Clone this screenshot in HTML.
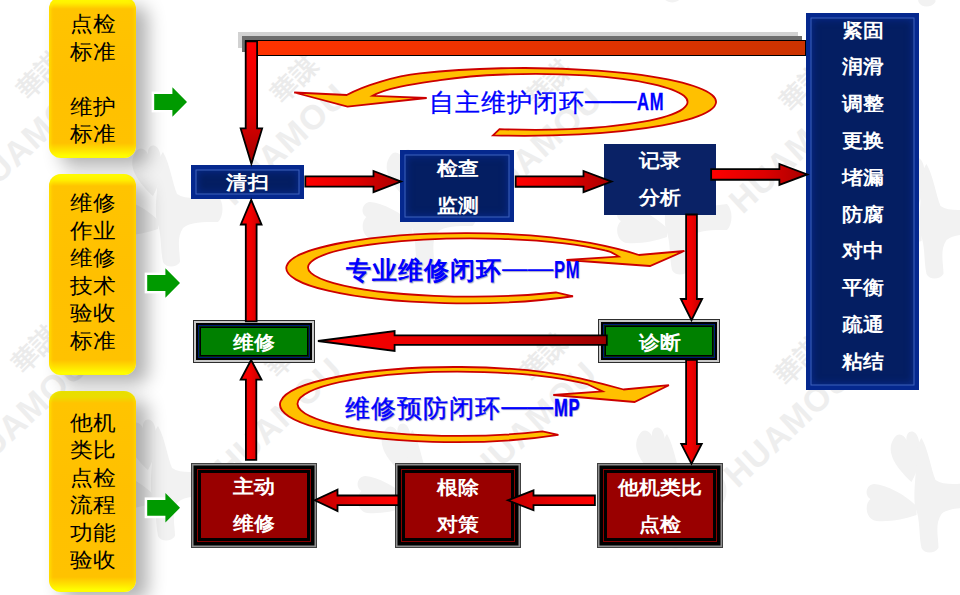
<!DOCTYPE html>
<html><head><meta charset="utf-8"><style>
*{margin:0;padding:0;box-sizing:border-box}
html,body{width:960px;height:595px;overflow:hidden;background:#fff}
body{position:relative;font-family:"Liberation Sans",sans-serif}
.abs{position:absolute}
.yb{position:absolute;left:48.5px;width:87px;border-radius:12px;
 background:linear-gradient(to bottom,var(--t1,#ffff00) 0px,var(--t2,#fff000) 6px,#ffc400 12px,#ffc000 50%,#ffc200 calc(100% - 15px),#ffe600 calc(100% - 7px),#ffff00 calc(100% - 2px));
 box-shadow:12px 9px 18px rgba(0,0,0,0.30)}
.yb:after{content:"";position:absolute;inset:0;border-radius:12px;box-shadow:inset 3px 0 3px -1px rgba(255,240,0,0.6),inset -3px 0 3px -1px rgba(255,230,0,0.5)}
.yt{position:absolute;left:70px;width:50px;font-size:21px;line-height:27.5px;color:#000;letter-spacing:0.3px;white-space:nowrap;transform:scaleX(1.08);transform-origin:0 0}
.nv{position:absolute;background:#041e62;box-shadow:inset 0 0 0 4.5px #05288e,inset 0 0 0 5.5px #3f62bc,inset 0 0 7px 7px #072886}
.nv i{display:none}
.wt{position:absolute;color:#fff;font-weight:bold;font-size:18.5px;line-height:21px;text-align:center;white-space:nowrap;transform:scaleX(1.1);transform-origin:50% 50%;letter-spacing:0.3px}
.gb{position:absolute;background:#008000;box-shadow:inset 0 0 0 1px #2e2e2e,inset 0 0 0 3px #c8c8c8,inset 0 0 0 5px #000,inset 0 0 0 6px #001c78,inset 0 0 0 7px #003000,inset 0 0 0 8px #000}
.rb{position:absolute;background:#990000;box-shadow:inset 0 0 0 1px #404040,inset 0 0 0 2.5px #8e8e8e,inset 0 0 0 6px #000,inset 0 0 0 7px #8a0000,inset 0 0 0 10px #000}
.lt{position:absolute;color:#0000ff;font-size:24.5px;letter-spacing:1.1px;line-height:26px;white-space:nowrap}
.dd{font-weight:normal;letter-spacing:0;font-size:25.6px;position:relative;top:-2px;margin-right:1px}
.lt.bd{font-weight:bold;text-shadow:1px 1px 1px rgba(0,0,80,0.35)}
.lat{display:inline-block;font-weight:bold;transform:scaleX(0.70);transform-origin:0 50%;font-size:23.7px;vertical-align:top;line-height:26px}
</style></head><body>

<svg class="abs" style="left:0;top:0" width="960" height="595" viewBox="0 0 960 595" font-family="Liberation Sans, sans-serif"><text x="-222.5" y="-201" transform="rotate(-45 -222.5 -201)" font-size="26" font-weight="bold" text-anchor="middle" dominant-baseline="central" fill="#ebebeb">華謀</text><text x="-233.5" y="-136" transform="rotate(-43 -233.5 -136)" font-size="34" font-weight="bold" letter-spacing="1" text-anchor="middle" dominant-baseline="central" fill="#eeeeee">HUAMOU</text><g fill="#f2f2f2"><g transform="translate(-104.5,-68)"><path d="M-5,-12 C-21,-27 -31,-42 -23,-55 C-19,-62 -13,-60 -10,-54 C-11,-64 -1,-66 2,-55 C6,-40 2,-24 -5,-12 Z"/><path d="M0,12 C-12,0 -30,-9 -42,-10 C-50,-10 -53,1 -46,5 C-53,11 -50,26 -40,27 C-26,28 -12,25 0,21 Z"/><path d="M5,-56 C12,-44 14,-26 19,-14 C28,-8 44,-10 60,-12 C66,-6 66,8 60,14 C45,14 32,14 25,20 C18,30 22,44 22,54 C18,60 8,60 5,54 C2,40 4,26 -1,14 C-4,2 0,-22 0,-36 C0,-46 2,-52 5,-56 Z"/></g></g><text x="-214.5" y="71" transform="rotate(-45 -214.5 71)" font-size="26" font-weight="bold" text-anchor="middle" dominant-baseline="central" fill="#ebebeb">華謀</text><text x="-225.5" y="136" transform="rotate(-43 -225.5 136)" font-size="34" font-weight="bold" letter-spacing="1" text-anchor="middle" dominant-baseline="central" fill="#eeeeee">HUAMOU</text><g fill="#f2f2f2"><g transform="translate(-96.5,204)"><path d="M-5,-12 C-21,-27 -31,-42 -23,-55 C-19,-62 -13,-60 -10,-54 C-11,-64 -1,-66 2,-55 C6,-40 2,-24 -5,-12 Z"/><path d="M0,12 C-12,0 -30,-9 -42,-10 C-50,-10 -53,1 -46,5 C-53,11 -50,26 -40,27 C-26,28 -12,25 0,21 Z"/><path d="M5,-56 C12,-44 14,-26 19,-14 C28,-8 44,-10 60,-12 C66,-6 66,8 60,14 C45,14 32,14 25,20 C18,30 22,44 22,54 C18,60 8,60 5,54 C2,40 4,26 -1,14 C-4,2 0,-22 0,-36 C0,-46 2,-52 5,-56 Z"/></g></g><text x="-219.5" y="345" transform="rotate(-45 -219.5 345)" font-size="26" font-weight="bold" text-anchor="middle" dominant-baseline="central" fill="#ebebeb">華謀</text><text x="-230.5" y="410" transform="rotate(-43 -230.5 410)" font-size="34" font-weight="bold" letter-spacing="1" text-anchor="middle" dominant-baseline="central" fill="#eeeeee">HUAMOU</text><g fill="#f2f2f2"><g transform="translate(-101.5,478)"><path d="M-5,-12 C-21,-27 -31,-42 -23,-55 C-19,-62 -13,-60 -10,-54 C-11,-64 -1,-66 2,-55 C6,-40 2,-24 -5,-12 Z"/><path d="M0,12 C-12,0 -30,-9 -42,-10 C-50,-10 -53,1 -46,5 C-53,11 -50,26 -40,27 C-26,28 -12,25 0,21 Z"/><path d="M5,-56 C12,-44 14,-26 19,-14 C28,-8 44,-10 60,-12 C66,-6 66,8 60,14 C45,14 32,14 25,20 C18,30 22,44 22,54 C18,60 8,60 5,54 C2,40 4,26 -1,14 C-4,2 0,-22 0,-36 C0,-46 2,-52 5,-56 Z"/></g></g><text x="32.0" y="-197" transform="rotate(-45 32.0 -197)" font-size="26" font-weight="bold" text-anchor="middle" dominant-baseline="central" fill="#ebebeb">華謀</text><text x="21.0" y="-132" transform="rotate(-43 21.0 -132)" font-size="34" font-weight="bold" letter-spacing="1" text-anchor="middle" dominant-baseline="central" fill="#eeeeee">HUAMOU</text><g fill="#f2f2f2"><g transform="translate(150.0,-64)"><path d="M-5,-12 C-21,-27 -31,-42 -23,-55 C-19,-62 -13,-60 -10,-54 C-11,-64 -1,-66 2,-55 C6,-40 2,-24 -5,-12 Z"/><path d="M0,12 C-12,0 -30,-9 -42,-10 C-50,-10 -53,1 -46,5 C-53,11 -50,26 -40,27 C-26,28 -12,25 0,21 Z"/><path d="M5,-56 C12,-44 14,-26 19,-14 C28,-8 44,-10 60,-12 C66,-6 66,8 60,14 C45,14 32,14 25,20 C18,30 22,44 22,54 C18,60 8,60 5,54 C2,40 4,26 -1,14 C-4,2 0,-22 0,-36 C0,-46 2,-52 5,-56 Z"/></g></g><text x="40.0" y="75" transform="rotate(-45 40.0 75)" font-size="26" font-weight="bold" text-anchor="middle" dominant-baseline="central" fill="#ebebeb">華謀</text><text x="29.0" y="140" transform="rotate(-43 29.0 140)" font-size="34" font-weight="bold" letter-spacing="1" text-anchor="middle" dominant-baseline="central" fill="#eeeeee">HUAMOU</text><g fill="#f2f2f2"><g transform="translate(158.0,208)"><path d="M-5,-12 C-21,-27 -31,-42 -23,-55 C-19,-62 -13,-60 -10,-54 C-11,-64 -1,-66 2,-55 C6,-40 2,-24 -5,-12 Z"/><path d="M0,12 C-12,0 -30,-9 -42,-10 C-50,-10 -53,1 -46,5 C-53,11 -50,26 -40,27 C-26,28 -12,25 0,21 Z"/><path d="M5,-56 C12,-44 14,-26 19,-14 C28,-8 44,-10 60,-12 C66,-6 66,8 60,14 C45,14 32,14 25,20 C18,30 22,44 22,54 C18,60 8,60 5,54 C2,40 4,26 -1,14 C-4,2 0,-22 0,-36 C0,-46 2,-52 5,-56 Z"/></g></g><text x="35.0" y="349" transform="rotate(-45 35.0 349)" font-size="26" font-weight="bold" text-anchor="middle" dominant-baseline="central" fill="#ebebeb">華謀</text><text x="24.0" y="414" transform="rotate(-43 24.0 414)" font-size="34" font-weight="bold" letter-spacing="1" text-anchor="middle" dominant-baseline="central" fill="#eeeeee">HUAMOU</text><g fill="#f2f2f2"><g transform="translate(153.0,482)"><path d="M-5,-12 C-21,-27 -31,-42 -23,-55 C-19,-62 -13,-60 -10,-54 C-11,-64 -1,-66 2,-55 C6,-40 2,-24 -5,-12 Z"/><path d="M0,12 C-12,0 -30,-9 -42,-10 C-50,-10 -53,1 -46,5 C-53,11 -50,26 -40,27 C-26,28 -12,25 0,21 Z"/><path d="M5,-56 C12,-44 14,-26 19,-14 C28,-8 44,-10 60,-12 C66,-6 66,8 60,14 C45,14 32,14 25,20 C18,30 22,44 22,54 C18,60 8,60 5,54 C2,40 4,26 -1,14 C-4,2 0,-22 0,-36 C0,-46 2,-52 5,-56 Z"/></g></g><text x="286.5" y="-193" transform="rotate(-45 286.5 -193)" font-size="26" font-weight="bold" text-anchor="middle" dominant-baseline="central" fill="#ebebeb">華謀</text><text x="275.5" y="-128" transform="rotate(-43 275.5 -128)" font-size="34" font-weight="bold" letter-spacing="1" text-anchor="middle" dominant-baseline="central" fill="#eeeeee">HUAMOU</text><g fill="#f2f2f2"><g transform="translate(404.5,-60)"><path d="M-5,-12 C-21,-27 -31,-42 -23,-55 C-19,-62 -13,-60 -10,-54 C-11,-64 -1,-66 2,-55 C6,-40 2,-24 -5,-12 Z"/><path d="M0,12 C-12,0 -30,-9 -42,-10 C-50,-10 -53,1 -46,5 C-53,11 -50,26 -40,27 C-26,28 -12,25 0,21 Z"/><path d="M5,-56 C12,-44 14,-26 19,-14 C28,-8 44,-10 60,-12 C66,-6 66,8 60,14 C45,14 32,14 25,20 C18,30 22,44 22,54 C18,60 8,60 5,54 C2,40 4,26 -1,14 C-4,2 0,-22 0,-36 C0,-46 2,-52 5,-56 Z"/></g></g><text x="294.5" y="79" transform="rotate(-45 294.5 79)" font-size="26" font-weight="bold" text-anchor="middle" dominant-baseline="central" fill="#ebebeb">華謀</text><text x="283.5" y="144" transform="rotate(-43 283.5 144)" font-size="34" font-weight="bold" letter-spacing="1" text-anchor="middle" dominant-baseline="central" fill="#eeeeee">HUAMOU</text><g fill="#f2f2f2"><g transform="translate(412.5,212)"><path d="M-5,-12 C-21,-27 -31,-42 -23,-55 C-19,-62 -13,-60 -10,-54 C-11,-64 -1,-66 2,-55 C6,-40 2,-24 -5,-12 Z"/><path d="M0,12 C-12,0 -30,-9 -42,-10 C-50,-10 -53,1 -46,5 C-53,11 -50,26 -40,27 C-26,28 -12,25 0,21 Z"/><path d="M5,-56 C12,-44 14,-26 19,-14 C28,-8 44,-10 60,-12 C66,-6 66,8 60,14 C45,14 32,14 25,20 C18,30 22,44 22,54 C18,60 8,60 5,54 C2,40 4,26 -1,14 C-4,2 0,-22 0,-36 C0,-46 2,-52 5,-56 Z"/></g></g><text x="289.5" y="353" transform="rotate(-45 289.5 353)" font-size="26" font-weight="bold" text-anchor="middle" dominant-baseline="central" fill="#ebebeb">華謀</text><text x="278.5" y="418" transform="rotate(-43 278.5 418)" font-size="34" font-weight="bold" letter-spacing="1" text-anchor="middle" dominant-baseline="central" fill="#eeeeee">HUAMOU</text><g fill="#f2f2f2"><g transform="translate(407.5,486)"><path d="M-5,-12 C-21,-27 -31,-42 -23,-55 C-19,-62 -13,-60 -10,-54 C-11,-64 -1,-66 2,-55 C6,-40 2,-24 -5,-12 Z"/><path d="M0,12 C-12,0 -30,-9 -42,-10 C-50,-10 -53,1 -46,5 C-53,11 -50,26 -40,27 C-26,28 -12,25 0,21 Z"/><path d="M5,-56 C12,-44 14,-26 19,-14 C28,-8 44,-10 60,-12 C66,-6 66,8 60,14 C45,14 32,14 25,20 C18,30 22,44 22,54 C18,60 8,60 5,54 C2,40 4,26 -1,14 C-4,2 0,-22 0,-36 C0,-46 2,-52 5,-56 Z"/></g></g><text x="541.0" y="-189" transform="rotate(-45 541.0 -189)" font-size="26" font-weight="bold" text-anchor="middle" dominant-baseline="central" fill="#ebebeb">華謀</text><text x="530.0" y="-124" transform="rotate(-43 530.0 -124)" font-size="34" font-weight="bold" letter-spacing="1" text-anchor="middle" dominant-baseline="central" fill="#eeeeee">HUAMOU</text><g fill="#f2f2f2"><g transform="translate(659.0,-56)"><path d="M-5,-12 C-21,-27 -31,-42 -23,-55 C-19,-62 -13,-60 -10,-54 C-11,-64 -1,-66 2,-55 C6,-40 2,-24 -5,-12 Z"/><path d="M0,12 C-12,0 -30,-9 -42,-10 C-50,-10 -53,1 -46,5 C-53,11 -50,26 -40,27 C-26,28 -12,25 0,21 Z"/><path d="M5,-56 C12,-44 14,-26 19,-14 C28,-8 44,-10 60,-12 C66,-6 66,8 60,14 C45,14 32,14 25,20 C18,30 22,44 22,54 C18,60 8,60 5,54 C2,40 4,26 -1,14 C-4,2 0,-22 0,-36 C0,-46 2,-52 5,-56 Z"/></g></g><text x="549.0" y="83" transform="rotate(-45 549.0 83)" font-size="26" font-weight="bold" text-anchor="middle" dominant-baseline="central" fill="#ebebeb">華謀</text><text x="538.0" y="148" transform="rotate(-43 538.0 148)" font-size="34" font-weight="bold" letter-spacing="1" text-anchor="middle" dominant-baseline="central" fill="#eeeeee">HUAMOU</text><g fill="#f2f2f2"><g transform="translate(667.0,216)"><path d="M-5,-12 C-21,-27 -31,-42 -23,-55 C-19,-62 -13,-60 -10,-54 C-11,-64 -1,-66 2,-55 C6,-40 2,-24 -5,-12 Z"/><path d="M0,12 C-12,0 -30,-9 -42,-10 C-50,-10 -53,1 -46,5 C-53,11 -50,26 -40,27 C-26,28 -12,25 0,21 Z"/><path d="M5,-56 C12,-44 14,-26 19,-14 C28,-8 44,-10 60,-12 C66,-6 66,8 60,14 C45,14 32,14 25,20 C18,30 22,44 22,54 C18,60 8,60 5,54 C2,40 4,26 -1,14 C-4,2 0,-22 0,-36 C0,-46 2,-52 5,-56 Z"/></g></g><text x="544.0" y="357" transform="rotate(-45 544.0 357)" font-size="26" font-weight="bold" text-anchor="middle" dominant-baseline="central" fill="#ebebeb">華謀</text><text x="533.0" y="422" transform="rotate(-43 533.0 422)" font-size="34" font-weight="bold" letter-spacing="1" text-anchor="middle" dominant-baseline="central" fill="#eeeeee">HUAMOU</text><g fill="#f2f2f2"><g transform="translate(662.0,490)"><path d="M-5,-12 C-21,-27 -31,-42 -23,-55 C-19,-62 -13,-60 -10,-54 C-11,-64 -1,-66 2,-55 C6,-40 2,-24 -5,-12 Z"/><path d="M0,12 C-12,0 -30,-9 -42,-10 C-50,-10 -53,1 -46,5 C-53,11 -50,26 -40,27 C-26,28 -12,25 0,21 Z"/><path d="M5,-56 C12,-44 14,-26 19,-14 C28,-8 44,-10 60,-12 C66,-6 66,8 60,14 C45,14 32,14 25,20 C18,30 22,44 22,54 C18,60 8,60 5,54 C2,40 4,26 -1,14 C-4,2 0,-22 0,-36 C0,-46 2,-52 5,-56 Z"/></g></g><text x="795.5" y="-185" transform="rotate(-45 795.5 -185)" font-size="26" font-weight="bold" text-anchor="middle" dominant-baseline="central" fill="#ebebeb">華謀</text><text x="784.5" y="-120" transform="rotate(-43 784.5 -120)" font-size="34" font-weight="bold" letter-spacing="1" text-anchor="middle" dominant-baseline="central" fill="#eeeeee">HUAMOU</text><g fill="#f2f2f2"><g transform="translate(913.5,-52)"><path d="M-5,-12 C-21,-27 -31,-42 -23,-55 C-19,-62 -13,-60 -10,-54 C-11,-64 -1,-66 2,-55 C6,-40 2,-24 -5,-12 Z"/><path d="M0,12 C-12,0 -30,-9 -42,-10 C-50,-10 -53,1 -46,5 C-53,11 -50,26 -40,27 C-26,28 -12,25 0,21 Z"/><path d="M5,-56 C12,-44 14,-26 19,-14 C28,-8 44,-10 60,-12 C66,-6 66,8 60,14 C45,14 32,14 25,20 C18,30 22,44 22,54 C18,60 8,60 5,54 C2,40 4,26 -1,14 C-4,2 0,-22 0,-36 C0,-46 2,-52 5,-56 Z"/></g></g><text x="803.5" y="87" transform="rotate(-45 803.5 87)" font-size="26" font-weight="bold" text-anchor="middle" dominant-baseline="central" fill="#ebebeb">華謀</text><text x="792.5" y="152" transform="rotate(-43 792.5 152)" font-size="34" font-weight="bold" letter-spacing="1" text-anchor="middle" dominant-baseline="central" fill="#eeeeee">HUAMOU</text><g fill="#f2f2f2"><g transform="translate(921.5,220)"><path d="M-5,-12 C-21,-27 -31,-42 -23,-55 C-19,-62 -13,-60 -10,-54 C-11,-64 -1,-66 2,-55 C6,-40 2,-24 -5,-12 Z"/><path d="M0,12 C-12,0 -30,-9 -42,-10 C-50,-10 -53,1 -46,5 C-53,11 -50,26 -40,27 C-26,28 -12,25 0,21 Z"/><path d="M5,-56 C12,-44 14,-26 19,-14 C28,-8 44,-10 60,-12 C66,-6 66,8 60,14 C45,14 32,14 25,20 C18,30 22,44 22,54 C18,60 8,60 5,54 C2,40 4,26 -1,14 C-4,2 0,-22 0,-36 C0,-46 2,-52 5,-56 Z"/></g></g><text x="798.5" y="361" transform="rotate(-45 798.5 361)" font-size="26" font-weight="bold" text-anchor="middle" dominant-baseline="central" fill="#ebebeb">華謀</text><text x="787.5" y="426" transform="rotate(-43 787.5 426)" font-size="34" font-weight="bold" letter-spacing="1" text-anchor="middle" dominant-baseline="central" fill="#eeeeee">HUAMOU</text><g fill="#f2f2f2"><g transform="translate(916.5,494)"><path d="M-5,-12 C-21,-27 -31,-42 -23,-55 C-19,-62 -13,-60 -10,-54 C-11,-64 -1,-66 2,-55 C6,-40 2,-24 -5,-12 Z"/><path d="M0,12 C-12,0 -30,-9 -42,-10 C-50,-10 -53,1 -46,5 C-53,11 -50,26 -40,27 C-26,28 -12,25 0,21 Z"/><path d="M5,-56 C12,-44 14,-26 19,-14 C28,-8 44,-10 60,-12 C66,-6 66,8 60,14 C45,14 32,14 25,20 C18,30 22,44 22,54 C18,60 8,60 5,54 C2,40 4,26 -1,14 C-4,2 0,-22 0,-36 C0,-46 2,-52 5,-56 Z"/></g></g><text x="1050.0" y="-181" transform="rotate(-45 1050.0 -181)" font-size="26" font-weight="bold" text-anchor="middle" dominant-baseline="central" fill="#ebebeb">華謀</text><text x="1039.0" y="-116" transform="rotate(-43 1039.0 -116)" font-size="34" font-weight="bold" letter-spacing="1" text-anchor="middle" dominant-baseline="central" fill="#eeeeee">HUAMOU</text><g fill="#f2f2f2"><g transform="translate(1168.0,-48)"><path d="M-5,-12 C-21,-27 -31,-42 -23,-55 C-19,-62 -13,-60 -10,-54 C-11,-64 -1,-66 2,-55 C6,-40 2,-24 -5,-12 Z"/><path d="M0,12 C-12,0 -30,-9 -42,-10 C-50,-10 -53,1 -46,5 C-53,11 -50,26 -40,27 C-26,28 -12,25 0,21 Z"/><path d="M5,-56 C12,-44 14,-26 19,-14 C28,-8 44,-10 60,-12 C66,-6 66,8 60,14 C45,14 32,14 25,20 C18,30 22,44 22,54 C18,60 8,60 5,54 C2,40 4,26 -1,14 C-4,2 0,-22 0,-36 C0,-46 2,-52 5,-56 Z"/></g></g><text x="1058.0" y="91" transform="rotate(-45 1058.0 91)" font-size="26" font-weight="bold" text-anchor="middle" dominant-baseline="central" fill="#ebebeb">華謀</text><text x="1047.0" y="156" transform="rotate(-43 1047.0 156)" font-size="34" font-weight="bold" letter-spacing="1" text-anchor="middle" dominant-baseline="central" fill="#eeeeee">HUAMOU</text><g fill="#f2f2f2"><g transform="translate(1176.0,224)"><path d="M-5,-12 C-21,-27 -31,-42 -23,-55 C-19,-62 -13,-60 -10,-54 C-11,-64 -1,-66 2,-55 C6,-40 2,-24 -5,-12 Z"/><path d="M0,12 C-12,0 -30,-9 -42,-10 C-50,-10 -53,1 -46,5 C-53,11 -50,26 -40,27 C-26,28 -12,25 0,21 Z"/><path d="M5,-56 C12,-44 14,-26 19,-14 C28,-8 44,-10 60,-12 C66,-6 66,8 60,14 C45,14 32,14 25,20 C18,30 22,44 22,54 C18,60 8,60 5,54 C2,40 4,26 -1,14 C-4,2 0,-22 0,-36 C0,-46 2,-52 5,-56 Z"/></g></g><text x="1053.0" y="365" transform="rotate(-45 1053.0 365)" font-size="26" font-weight="bold" text-anchor="middle" dominant-baseline="central" fill="#ebebeb">華謀</text><text x="1042.0" y="430" transform="rotate(-43 1042.0 430)" font-size="34" font-weight="bold" letter-spacing="1" text-anchor="middle" dominant-baseline="central" fill="#eeeeee">HUAMOU</text><g fill="#f2f2f2"><g transform="translate(1171.0,498)"><path d="M-5,-12 C-21,-27 -31,-42 -23,-55 C-19,-62 -13,-60 -10,-54 C-11,-64 -1,-66 2,-55 C6,-40 2,-24 -5,-12 Z"/><path d="M0,12 C-12,0 -30,-9 -42,-10 C-50,-10 -53,1 -46,5 C-53,11 -50,26 -40,27 C-26,28 -12,25 0,21 Z"/><path d="M5,-56 C12,-44 14,-26 19,-14 C28,-8 44,-10 60,-12 C66,-6 66,8 60,14 C45,14 32,14 25,20 C18,30 22,44 22,54 C18,60 8,60 5,54 C2,40 4,26 -1,14 C-4,2 0,-22 0,-36 C0,-46 2,-52 5,-56 Z"/></g></g></svg>
<!-- yellow boxes -->
<div class="yb" style="top:-3px;height:161px"></div>
<div class="yb" style="top:173.5px;height:201px"></div>
<div class="yb" style="top:390.5px;height:201px;--t1:#e6e000;--t2:#ecdc00"></div>
<div class="yt" style="top:10px">点检<br>标准<br>&nbsp;<br>维护<br>标准</div>
<div class="yt" style="top:189px">维修<br>作业<br>维修<br>技术<br>验收<br>标准</div>
<div class="yt" style="top:408.5px">他机<br>类比<br>点检<br>流程<br>功能<br>验收</div>

<!-- top bar with 3D shadow -->
<div class="abs" style="left:237.5px;top:32px;width:560.5px;height:16px;background:#d2d2d2"></div>
<div class="abs" style="left:241.5px;top:36px;width:560.5px;height:16px;background:#6e6e6e"></div>
<div class="abs" style="left:245px;top:40px;width:561px;height:16px;background:linear-gradient(to right,#ff3300,#f03300 35%,#cc3300);border:1.8px solid #000"></div>

<!-- right navy box -->
<div class="nv" style="left:806px;top:13px;width:112.6px;height:376.7px"><i></i></div>
<div class="wt" style="left:806.5px;width:112px;top:12.6px;line-height:36.8px">紧固<br>润滑<br>调整<br>更换<br>堵漏<br>防腐<br>对中<br>平衡<br>疏通<br>粘结</div>

<!-- navy center boxes -->
<div class="nv" style="left:190.5px;top:165.2px;width:113.3px;height:34.2px"><i></i></div>
<div class="wt" style="left:190.5px;width:113.3px;top:171.8px">清扫</div>
<div class="nv" style="left:400.3px;top:150.3px;width:113.4px;height:72.1px"><i></i></div>
<div class="wt" style="left:400.3px;width:116px;top:149.5px;line-height:37px">检查<br>监测</div>
<div class="abs" style="left:604.4px;top:144.4px;width:112.1px;height:70.4px;background:#0a2266"></div>
<div class="wt" style="left:604.4px;width:112.1px;top:142px;line-height:37px;padding-top:0">记录<br>分析</div>

<!-- green boxes -->
<div class="gb" style="left:193.3px;top:319.5px;width:122px;height:43.7px"></div>
<div class="wt" style="left:193.3px;width:122px;top:331.5px">维修</div>
<div class="gb" style="left:598.3px;top:319.3px;width:122.2px;height:44.1px"></div>
<div class="wt" style="left:599.3px;width:122.2px;top:331.8px">诊断</div>

<!-- red boxes -->
<div class="rb" style="left:191.4px;top:462.6px;width:126px;height:85.7px"></div>
<div class="wt" style="left:191.4px;width:126px;top:468px;line-height:37px">主动<br>维修</div>
<div class="rb" style="left:394.6px;top:462.6px;width:126.1px;height:85.9px"></div>
<div class="wt" style="left:394.6px;width:126.1px;top:468.5px;line-height:37px">根除<br>对策</div>
<div class="rb" style="left:596.5px;top:462.6px;width:126.2px;height:85.7px"></div>
<div class="wt" style="left:596.5px;width:126.2px;top:468.5px;line-height:37px">他机类比<br>点检</div>

<svg class="abs" style="left:0;top:0" width="960" height="595" viewBox="0 0 960 595">
<defs>
<linearGradient id="gv1" x1="0" y1="0" x2="0" y2="1"><stop offset="0" stop-color="#ff0000"/><stop offset="0.6" stop-color="#e00000"/><stop offset="1" stop-color="#a00000"/></linearGradient>
<linearGradient id="gvu" x1="0" y1="0" x2="1" y2="0"><stop offset="0" stop-color="#ff0000"/><stop offset="0.5" stop-color="#f00000"/><stop offset="1" stop-color="#c00000"/></linearGradient>
<linearGradient id="gvd" x1="0" y1="0" x2="1" y2="0"><stop offset="0" stop-color="#ff0000"/><stop offset="0.5" stop-color="#ee0000"/><stop offset="1" stop-color="#c00000"/></linearGradient>
<linearGradient id="gr" x1="0" y1="0" x2="1" y2="0"><stop offset="0" stop-color="#ff0000"/><stop offset="0.55" stop-color="#dd0000"/><stop offset="1" stop-color="#a80000"/></linearGradient>
<linearGradient id="gl6" x1="0" y1="0" x2="1" y2="0"><stop offset="0" stop-color="#ff0000"/><stop offset="0.5" stop-color="#e00000"/><stop offset="1" stop-color="#9a0000"/></linearGradient>
<linearGradient id="gl9" x1="0" y1="0" x2="1" y2="0"><stop offset="0" stop-color="#c00000"/><stop offset="0.5" stop-color="#e80000"/><stop offset="1" stop-color="#ff0000"/></linearGradient>
</defs>
<rect x="151.70" y="91.60" width="22.20" height="20.80" fill="#fff"/><polygon points="154.20,94.10 172.40,94.10 172.40,87.20 187.00,102.00 172.40,116.80 172.40,109.90 154.20,109.90" fill="#009a00"/><rect x="144.70" y="272.60" width="22.20" height="20.80" fill="#fff"/><polygon points="147.20,275.10 165.40,275.10 165.40,268.20 180.00,283.00 165.40,297.80 165.40,290.90 147.20,290.90" fill="#009a00"/><rect x="144.70" y="497.40" width="22.20" height="20.80" fill="#fff"/><polygon points="147.20,499.90 165.40,499.90 165.40,493.00 180.00,507.80 165.40,522.60 165.40,515.70 147.20,515.70" fill="#009a00"/>
<g fill="#ffc000" stroke="#cc0000" stroke-width="1.8" stroke-linejoin="miter">
<path d="M493.00,135.35 A191.9,33.9 0 1 0 420.00,73.43 C395,76.28 365,85 346.7,95 L294.2,92.5 L347.5,106.7 L426.7,98 L372.5,95.8 C388,87 420,83.13 440.00,80.13 A152.0,28.0 0 1 1 499.50,129.10 Z"/>
<path d="M573.00,296.26 A179.1,35.1 0 1 1 590.00,242.99 C610,246.79 628,251.5 639,255 L684.4,251 L650,266 L566.4,260 L618.75,256.6 Q611,251.5 605.00,250.47 A164.0,29.1 0 1 0 556.00,292.49 Z"/>
<path d="M558.40,434.92 A175.0,37.6 0 1 1 580.00,378.27 C597,382.17 613,386.5 623.6,389.5 L668.9,385.2 L634.5,402 L553.3,395 L602.5,391.4 Q596,388.2 588.00,384.44 A161.6,32.1 0 1 0 542.50,431.29 Z"/>
</g>
<polygon points="245.70,41.40 245.70,128.40 240.64,128.40 251.40,163.96 262.16,128.40 257.10,128.40 257.10,41.40" fill="url(#gv1)" stroke="#000" stroke-width="1.8" stroke-linejoin="miter"/><polygon points="245.80,321.40 245.80,224.50 240.84,224.50 251.20,199.84 261.56,224.50 256.60,224.50 256.60,321.40" fill="url(#gvu)" stroke="#000" stroke-width="1.8" stroke-linejoin="miter"/><polygon points="245.90,459.80 245.90,379.60 240.69,379.60 251.10,360.04 261.51,379.60 256.30,379.60 256.30,459.80" fill="url(#gvu)" stroke="#000" stroke-width="1.8" stroke-linejoin="miter"/><polygon points="686.10,214.50 686.10,299.00 680.84,299.00 691.50,320.26 702.16,299.00 696.90,299.00 696.90,214.50" fill="url(#gvd)" stroke="#000" stroke-width="1.8" stroke-linejoin="miter"/><polygon points="686.10,359.90 686.10,444.00 681.24,444.00 691.50,463.86 701.76,444.00 696.90,444.00 696.90,359.90" fill="url(#gvd)" stroke="#000" stroke-width="1.8" stroke-linejoin="miter"/><polygon points="305.30,176.45 373.50,176.45 373.50,170.94 401.06,181.55 373.50,192.16 373.50,186.65 305.30,186.65" fill="url(#gr)" stroke="#000" stroke-width="1.8" stroke-linejoin="miter"/><polygon points="515.65,176.45 583.50,176.45 583.50,170.99 611.56,181.60 583.50,192.21 583.50,186.75 515.65,186.75" fill="url(#gr)" stroke="#000" stroke-width="1.8" stroke-linejoin="miter"/><polygon points="711.15,169.05 779.40,169.05 779.40,163.97 807.31,174.40 779.40,184.84 779.40,179.75 711.15,179.75" fill="url(#gr)" stroke="#000" stroke-width="1.8" stroke-linejoin="miter"/><polygon points="606.80,335.45 394.60,335.45 394.60,331.14 317.94,341.00 394.60,350.86 394.60,344.95 606.80,344.95" fill="url(#gl6)" stroke="#000" stroke-width="1.8" stroke-linejoin="miter"/><polygon points="594.90,495.50 533.50,495.50 533.50,490.34 507.84,500.30 533.50,510.26 533.50,505.10 594.90,505.10" fill="url(#gl9)" stroke="#000" stroke-width="1.8" stroke-linejoin="miter"/><polygon points="398.40,495.50 337.50,495.50 337.50,489.64 314.74,500.30 337.50,510.96 337.50,505.10 398.40,505.10" fill="url(#gl9)" stroke="#000" stroke-width="1.8" stroke-linejoin="miter"/>
</svg>

<!-- loop texts -->
<div class="lt" style="left:428.5px;top:88.5px;-webkit-text-stroke:0.3px #0000ff">自主维护闭环<span class="dd">——</span><span class="lat">AM</span></div>
<div class="lt bd" style="left:345.5px;top:256.5px">专业维修闭环<span class="dd">——</span><span class="lat">PM</span></div>
<div class="lt bd" style="left:345px;top:394.5px;font-weight:normal;-webkit-text-stroke:0.4px #0000ff">维修预防闭环<span class="dd">——</span><span class="lat">MP</span></div>

</body></html>
